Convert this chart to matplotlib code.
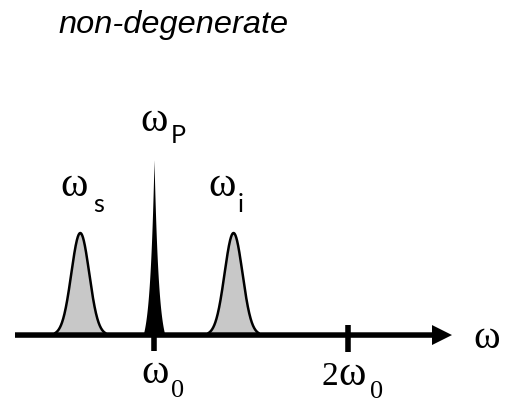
import numpy as np
import matplotlib
matplotlib.use("Agg")
import matplotlib.pyplot as plt

# frequency axis in units of w0, heights in units of the signal peak
peak_names = ["s", "P", "i"]
peak_centers = [0.62, 1.0, 1.41]
peak_heights = [1.0, 1.72, 1.0]
peak_widths = [0.046, 0.023, 0.046]   # gaussian sigma / spike decay length
peak_kinds = ["gauss", "spike", "gauss"]

tick_positions = [1.0, 2.0]
tick_prefixes = ["", "2"]
tick_subs = ["0", "0"]

title = "non-degenerate"
axis_label = "\u03c9"
OMEGA = "\u03c9"

SERIF = "Liberation Serif"
SANS = "Lato"
GRAY = "#c8c8c8"
PX = 0.72  # points per pixel at dpi=100

fig = plt.figure(figsize=(5.08, 4.04), dpi=100)
ax = fig.add_axes([0, 0, 1, 1])
ax.set_xlim(0.2062, 2.8247)
ax.set_ylim(-0.676, 3.284)
ax.axis("off")

# peaks
for c, h, w, kind in zip(peak_centers, peak_heights, peak_widths, peak_kinds):
    if kind == "gauss":
        x = np.linspace(c - 2.9 * w, c + 2.9 * w, 300)
        y = h * np.exp(-0.5 * ((x - c) / w) ** 2)
        ax.fill_between(x, 0, y, color=GRAY, lw=0, zorder=2)
        ax.plot(x, y, color="k", lw=1.8, zorder=3, solid_capstyle="butt")
    else:
        half = 2.45 * w
        x = np.linspace(c - half, c + half, 800)
        floor = np.exp(-half / w)
        y = h * (np.exp(-np.abs(x - c) / w) - floor) / (1 - floor)
        ax.fill_between(x, 0, y, color="k", lw=0, zorder=3)

# frequency axis with arrow
x0, x1 = 0.2835, 2.536
ax.arrow(x0, 0, x1 - x0, 0, width=0.054, head_width=0.196, head_length=0.103,
         length_includes_head=True, fc="k", ec="none", zorder=4)

# ticks
ax.plot([tick_positions[0]] * 2, [0, -0.16], color="k", lw=4,
        solid_capstyle="butt", zorder=4)
ax.plot([tick_positions[1]] * 2, [0.098, -0.167], color="k", lw=4,
        solid_capstyle="butt", zorder=4)


def put(xy, s, dx, dy, family, size, ha):
    ax.annotate(s, xy=xy, xytext=(dx * PX, dy * PX), textcoords="offset points",
                ha=ha, va="baseline", family=family, fontsize=size, zorder=5)


# peak labels (offsets in pixels from the peak top)
offsets = {"s": (-5.8, 37, 13, 21), "P": (0.5, 29, 17, 17), "i": (-11, 37, 4, 21)}
for name, c, h in zip(peak_names, peak_centers, peak_heights):
    mdx, mdy, sdx, sdy = offsets[name]
    put((c, h), OMEGA, mdx, mdy, SERIF, 30, "center")
    put((c, h), name, sdx, sdy, SANS, 18, "left")

# tick labels (offsets in pixels from the tick on the axis)
tick_offsets = [(1.5, -48, 17, -62), (4, -50, 22, -63)]
for t, pre, sub, (mdx, mdy, sdx, sdy) in zip(tick_positions, tick_prefixes,
                                             tick_subs, tick_offsets):
    put((t, 0), OMEGA, mdx, mdy, SERIF, 30, "center")
    if pre:
        put((t, 0), pre, mdx - 14, mdy, SERIF, 24, "right")
    put((t, 0), sub, sdx, sdy, SERIF, 19, "left")

# axis label
put((x1, 0), axis_label, 34.5, -13, SERIF, 29, "center")

fig.text(58 / 508, 1 - 33 / 404, title, family="Liberation Sans",
         style="italic", fontsize=23.4, va="baseline", ha="left")

fig.savefig("out.png", dpi=100)
